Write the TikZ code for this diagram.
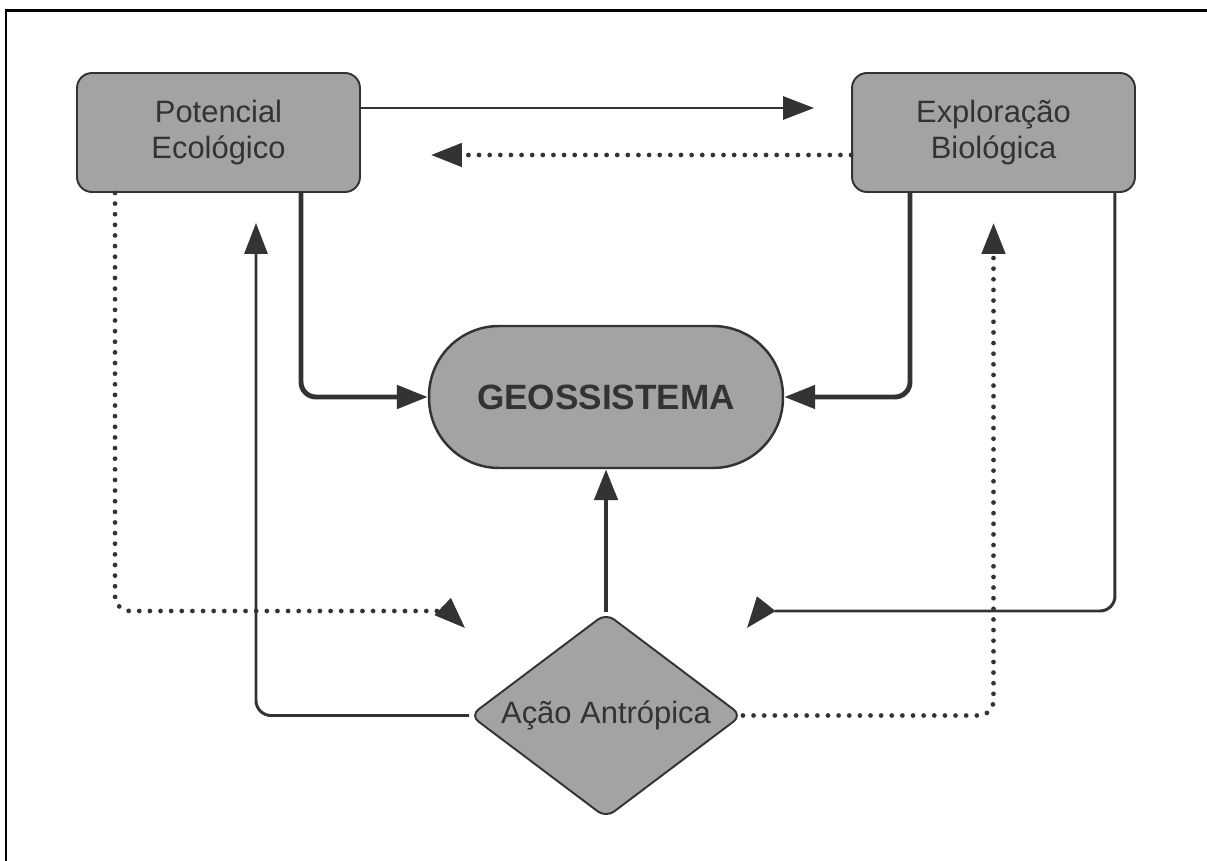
\documentclass[tikz,border=0pt]{standalone}
\usepackage{fontspec}
\setmainfont{Liberation Sans}
\usetikzlibrary{shapes.geometric}
\usetikzlibrary{arrows.meta}
\definecolor{dk}{HTML}{333333}
\definecolor{gr}{HTML}{A3A3A3}
\begin{document}
\begin{tikzpicture}[x=0.02cm,y=-0.02cm,
  bx/.style={draw=dk,fill=gr,line width=1.1pt,rounded corners=0.3cm,minimum width=5.66cm,minimum height=2.38cm,align=center,text=dk,font=\fontsize{17.6}{20.4}\selectfont},
  gs/.style={draw=dk,fill=gr,line width=1.4pt,rounded corners=1.4cm,minimum width=7.08cm,minimum height=2.84cm,text=dk,font=\fontsize{20}{24}\selectfont\bfseries},
  dm/.style={diamond,aspect=1.33,draw=dk,fill=gr,line width=1.1pt,rounded corners=0.2cm,inner sep=0pt,minimum width=5.44cm,minimum height=4.1cm,text=dk,font=\fontsize{17.6}{20.4}\selectfont},
  ln/.style={draw=dk,line width=1.7pt,rounded corners=0.3cm,-{Triangle[length=0.62cm,width=0.46cm]}},
  tk/.style={ln,line width=2.8pt},
  dt/.style={ln,line width=2.7pt,line cap=round,dash pattern=on 0pt off 6.05pt}]
                \useasboundingbox (0,0) rectangle (1207,861);
                \draw[line width=1.4pt] (6,861) -- (6,10.5) -- (1207,10.5);
                \node[bx] (pe) at (218.5,132.5) {Potencial\\Ecológico};
                \node[bx] (eb) at (993.5,132.5) {Exploração\\Biológica};
                \node[gs] (geo) at (606,397) {GEOSSISTEMA};
                \node[dm] (aa) at (606,715.5) {Ação Antrópica};
                \coordinate (la) at (439,611);
                \coordinate (lb) at (442.7,606.6);
                \coordinate (lt) at (465,628);
                \coordinate (ra) at (775,611);
                \coordinate (rb) at (766.2,603.8);
                \coordinate (rt) at (747,628);
                \draw[ln] ([yshift=0.49cm]pe.east) -- ([xshift=-0.74cm,yshift=0.49cm]eb.west);
                \draw[dt] ([yshift=-0.45cm]eb.west) -- ([xshift=1.4cm,yshift=-0.45cm]pe.east);
                \draw[tk] ([xshift=1.65cm]pe.south) |- (geo.west);
                \draw[tk] ([xshift=-1.67cm]eb.south) |- (geo.east);
                \draw[tk] (aa.north) -- (geo.south);
                \draw[ln] (aa.west) -| ([xshift=0.75cm,yshift=-0.6cm]pe.south);
                \draw[dt] (aa.east) -| ([yshift=-0.6cm]eb.south);
                \draw[dt,-] ([xshift=-2.07cm]pe.south) |- (la);
                \draw[ln] (lb) -- (lt);
                \draw[ln,-] ([xshift=2.43cm]eb.south) |- (ra);
                \draw[ln] (rb) -- (rt);
\end{tikzpicture}
\end{document}
